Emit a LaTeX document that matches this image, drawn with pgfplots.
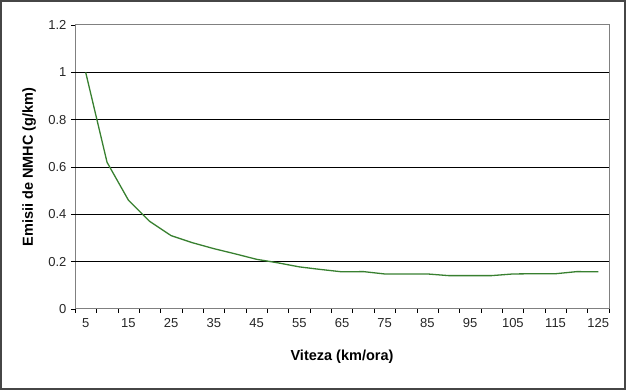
\documentclass[border=0pt]{standalone}
\usepackage{fontspec}
\setmainfont{Liberation Sans}
\usepackage{pgfplots}
\pgfplotsset{compat=1.18}
\definecolor{lineg}{RGB}{56,128,48}
\definecolor{axgray}{RGB}{128,128,128}
\definecolor{framegray}{RGB}{70,70,70}
\begin{document}
\begin{tikzpicture}[x=1pt,y=1pt]
\draw[framegray,line width=2pt] (1,1) rectangle (625,389);
\begin{axis}[
  at={(75pt,81pt)}, anchor=south west,
  scale only axis, width=534pt, height=284pt,
  xmin=2.5, xmax=127.5, ymin=0, ymax=1.2,
  xtick={5,15,...,125},
  minor xtick={2.5,7.5,...,127.5},
  ytick={0,0.2,0.4,0.6,0.8,1,1.2},
  yticklabels={0,0.2,0.4,0.6,0.8,1,1.2},
  tick align=outside,
  major tick length=4pt, minor tick length=4pt,
  xtick style={draw=none},
  minor x tick style={draw=black, thin},
  y tick style={black, thin},
  xtick pos=bottom, ytick pos=left,
  axis line style={axgray, line width=1pt},
  extra y ticks={0.2,0.4,0.6,0.8,1},
  extra y tick labels={},
  extra y tick style={grid=major, major grid style={black, line width=0.9pt}, major tick length=0pt},
  /pgf/number format/assume math mode=true,
  tick label style={font=\fontsize{13}{15}\selectfont, text=black!85},
  xticklabel style={yshift=-2pt},
  yticklabel style={xshift=-1pt},
  label style={font=\bfseries\fontsize{14.5}{16}\selectfont},
  xlabel={Viteza (km/ora)},
  ylabel={Emisii de NMHC (g/km)},
  xlabel style={at={(axis description cs:0.5,-0.168)}, anchor=center},
  ylabel style={at={(axis description cs:-0.086,0.5)}, anchor=center},
  clip=false,
]
\addplot[lineg, line width=1.3pt] coordinates {
(5,1.00) (10,0.62) (15,0.46) (20,0.37) (25,0.31) (30,0.28) (35,0.255) (40,0.233) (45,0.21)
(50,0.195) (55,0.178) (60,0.167) (65,0.157) (70,0.158) (75,0.148) (80,0.148) (85,0.148)
(90,0.141) (95,0.141) (100,0.141) (105,0.148) (110,0.149) (115,0.149) (120,0.158) (125,0.157)
};
\end{axis}
\end{tikzpicture}
\end{document}
